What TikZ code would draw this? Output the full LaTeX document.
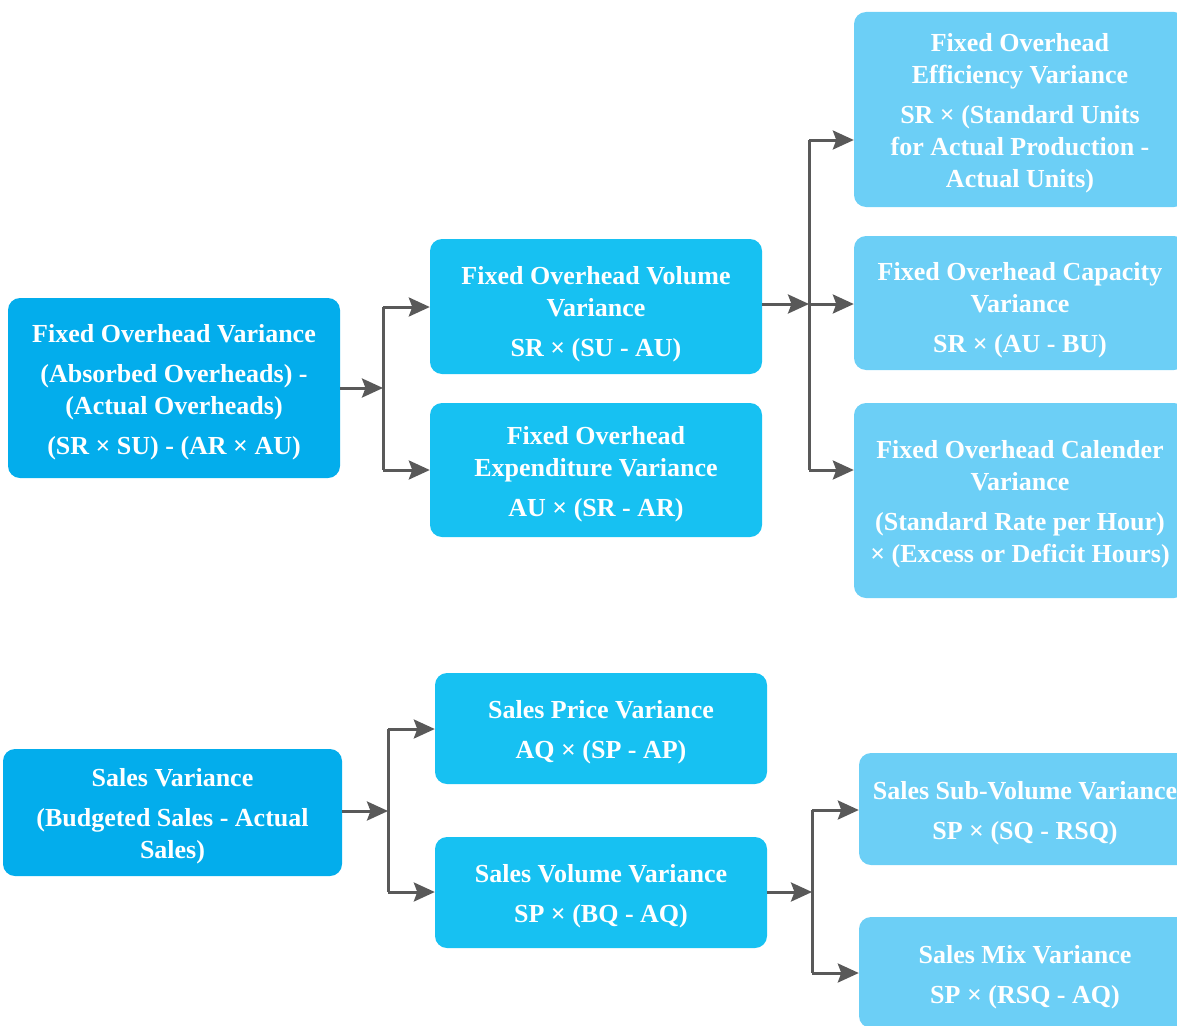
\documentclass[tikz,border=0pt]{standalone}
\usepackage{fontspec}
\setmainfont{Liberation Serif}[BoldFont={Liberation Serif Bold}]
\usetikzlibrary{arrows.meta}
\definecolor{cdark}{HTML}{03ADEC}
\definecolor{cmid}{HTML}{17C1F2}
\definecolor{clight}{HTML}{6CCFF6}
\definecolor{cconn}{HTML}{595959}
\begin{document}
\begin{tikzpicture}[x=1pt,y=-1pt,
  box/.style={rounded corners=12pt, minimum width=332pt, inner sep=0pt},
  lvlone/.style={box, fill=cdark},
  lvltwo/.style={box, fill=cmid},
  lvlthree/.style={box, fill=clight},
  txt/.style={inner sep=0pt, align=center, text=white, font=\fontsize{26}{32}\selectfont\bfseries},
  arr/.style={draw=cconn, line width=3pt, -{Stealth[length=21pt,width=19pt,inset=3.5pt]}},
  busline/.style={draw=cconn, line width=3pt}]
\useasboundingbox (0,0) rectangle (1177,1025);
\clip (0,0) rectangle (1177,1025);

% ---------- Fixed overhead tree ----------
\node[lvlone, minimum height=180pt] (A) at (174,388) {};
\node[txt] (At) at ([yshift=-4pt]A.center)
  {Fixed Overhead Variance\\[8pt](Absorbed Overheads) -\\(Actual Overheads)\\[8pt](SR × SU) - (AR × AU)};
\node[lvltwo, minimum height=135pt] (B) at (596,306.5) {};
\node[txt] (Bt) at ([yshift=-8pt]B.center)
  {Fixed Overhead Volume\\Variance\\[8pt]SR × (SU - AU)};
\node[lvltwo, minimum height=134pt] (C) at (596,470) {};
\node[txt] (Ct) at ([yshift=-4pt]C.center)
  {Fixed Overhead\\Expenditure Variance\\[8pt]AU × (SR - AR)};
\node[lvlthree, minimum height=195pt] (D) at (1020,109.5) {};
\node[txt] (Dt) at ([yshift=-3.5pt]D.center)
  {Fixed Overhead\\Efficiency Variance\\[8pt]SR × (Standard Units\\for Actual Production -\\Actual Units)};
\node[lvlthree, minimum height=134pt] (E) at (1020,303) {};
\node[txt] (Et) at ([yshift=-7pt]E.center)
  {Fixed Overhead Capacity\\Variance\\[8pt]SR × (AU - BU)};
\node[lvlthree, minimum height=195pt] (F) at (1020,500.5) {};
\node[txt] (Ft) at ([yshift=-4pt]F.center)
  {Fixed Overhead Calender\\Variance\\[8pt](Standard Rate per Hour)\\× (Excess or Deficit Hours)};

\coordinate (bA) at (383,388);
\coordinate (bA1) at (383,307);
\coordinate (bA2) at (383,470);
\draw[arr] (A.east |- bA) -- (bA);
\draw[busline] (bA1) -- (bA2);
\draw[arr] (bA1) -- (bA1 -| B.west);
\draw[arr] (bA2) -- (bA2 -| C.west);

\coordinate (bB) at (809,304);
\coordinate (bB1) at (809,140);
\coordinate (bB2) at (809,470);
\draw[arr] (bB -| B.east) -- (bB);
\draw[busline] (bB1) -- (bB2);
\draw[arr] (bB1) -- (bB1 -| D.west);
\draw[arr] (bB) -- (bB -| E.west);
\draw[arr] (bB2) -- (bB2 -| F.west);

% ---------- Sales tree ----------
\node[lvlone, minimum width=339pt, minimum height=127pt] (G) at (172.5,812.5) {};
\node[txt] (Gt) at ([yshift=-4pt]G.center)
  {Sales Variance\\[8pt](Budgeted Sales - Actual\\Sales)};
\node[lvltwo, minimum height=111pt] (H) at (601,728.5) {};
\node[txt] (Ht) at ([yshift=-4pt]H.center)
  {Sales Price Variance\\[8pt]AQ × (SP - AP)};
\node[lvltwo, minimum height=111pt] (I) at (601,892.5) {};
\node[txt] (It) at ([yshift=-4pt]I.center)
  {Sales Volume Variance\\[8pt]SP × (BQ - AQ)};
\node[lvlthree, minimum height=112pt] (J) at (1025,809) {};
\node[txt] (Jt) at ([yshift=-4pt]J.center)
  {Sales Sub-Volume Variance\\[8pt]SP × (SQ - RSQ)};
\node[lvlthree, minimum height=111pt] (K) at (1025,972.5) {};
\node[txt] (Kt) at ([yshift=-4.5pt]K.center)
  {Sales Mix Variance\\[8pt]SP × (RSQ - AQ)};

\coordinate (bG) at (388,811);
\coordinate (bG1) at (388,729);
\coordinate (bG2) at (388,892);
\draw[arr] (G.east |- bG) -- (bG);
\draw[busline] (bG1) -- (bG2);
\draw[arr] (bG1) -- (bG1 -| H.west);
\draw[arr] (bG2) -- (bG2 -| I.west);

\coordinate (bI) at (812,892);
\coordinate (bI1) at (812,810);
\coordinate (bI2) at (812,973);
\draw[arr] (bI -| I.east) -- (bI);
\draw[busline] (bI1) -- (bI2);
\draw[arr] (bI1) -- (bI1 -| J.west);
\draw[arr] (bI2) -- (bI2 -| K.west);
\end{tikzpicture}
\end{document}
